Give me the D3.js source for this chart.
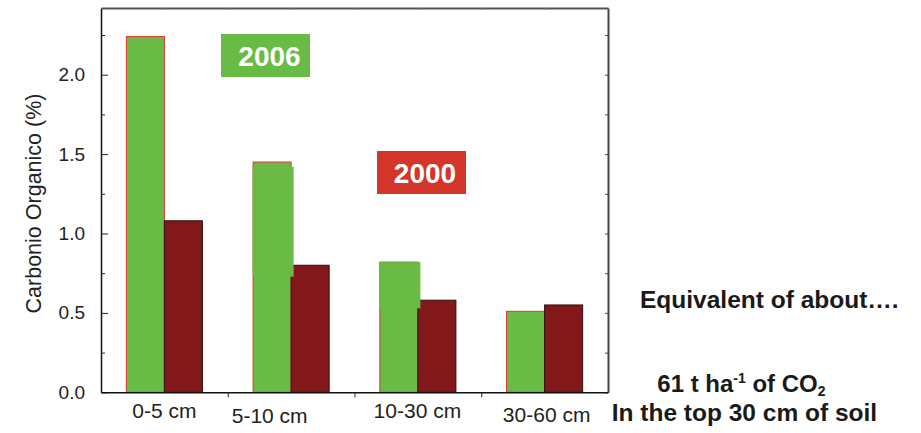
<!DOCTYPE html>
<html><head><meta charset="utf-8">
<script src="https://cdn.jsdelivr.net/npm/d3@7"></script>
<style>
body{margin:0;background:#fff;}
svg{display:block;font-family:"Liberation Sans",Arial,sans-serif;}
</style></head>
<body><svg id="c" width="921" height="433"></svg>
<script>
const categories = ["0-5 cm", "5-10 cm", "10-30 cm", "30-60 cm"];
const values2006 = [2.24, 1.45, 0.82, 0.51];
const values2000 = [1.08, 0.80, 0.58, 0.55];
// green over-paint patches on the 2006 bars [category, from, to]
const patches = [["5-10 cm", 0.728, 1.42], ["10-30 cm", 0.529, 0.82]];
const yTicks = [0.0, 0.5, 1.0, 1.5, 2.0];
const yMinor = [0.25, 0.75, 1.25, 1.75, 2.25];
const seriesNames = ["2006", "2000"];

const GREEN = "#69bb45", DARK = "#82181a", RED = "#e8302a", BOXRED = "#d3362a";
const L = 101, R = 608, T = 8, B = 392.3;
const svg = d3.select("#c");

const x = d3.scaleBand().domain(categories).range([L, R]).padding(0);
const y = d3.scaleLinear().domain([0, 2.42]).range([B, T]);
const bw = x.bandwidth() * 0.3;
const cx = c => x(c) + x.bandwidth() / 2;

// bars 2006
svg.append("g").selectAll("rect").data(categories).join("rect")
  .attr("x", c => cx(c) - bw).attr("width", bw)
  .attr("y", (c, i) => y(values2006[i])).attr("height", (c, i) => B - y(values2006[i]))
  .attr("fill", GREEN).attr("stroke", RED).attr("stroke-width", 1);
// bars 2000
svg.append("g").selectAll("rect").data(categories).join("rect")
  .attr("x", c => cx(c)).attr("width", bw)
  .attr("y", (c, i) => y(values2000[i])).attr("height", (c, i) => B - y(values2000[i]))
  .attr("fill", DARK).attr("stroke", "#2a1010").attr("stroke-width", 1);
// patches
svg.append("g").selectAll("rect").data(patches).join("rect")
  .attr("x", d => cx(d[0]) - bw - 0.5).attr("width", bw + 3)
  .attr("y", d => y(d[2])).attr("height", d => y(d[1]) - y(d[2]))
  .attr("fill", GREEN);

// axes
const tickFmt = d3.format(".1f");
const gl = svg.append("g").attr("transform", `translate(${L},0)`)
  .call(d3.axisLeft(y).tickValues(yTicks).tickFormat(tickFmt).tickSize(-7).tickPadding(16).tickSizeOuter(0));
gl.select(".domain").attr("stroke", "#111").attr("stroke-width", 1.5);
gl.selectAll(".tick line").attr("stroke", "#222");
gl.selectAll(".tick text").attr("font-size", 19).attr("fill", "#222").attr("font-family", "Liberation Sans, Arial");
svg.append("g").attr("transform", `translate(${L},0)`)
  .call(d3.axisLeft(y).tickValues(yMinor).tickFormat("").tickSize(-4).tickSizeOuter(0))
  .call(g => g.select(".domain").remove())
  .selectAll(".tick line").attr("stroke", "#222");

const gr = svg.append("g").attr("transform", `translate(${R},0)`)
  .call(d3.axisRight(y).tickValues(yTicks.concat(yMinor)).tickFormat("").tickSize(-3).tickSizeOuter(0));
gr.select(".domain").attr("stroke", "#444").attr("stroke-width", 2);
gr.selectAll(".tick line").attr("stroke", "#444");

const gb = svg.append("g").attr("transform", `translate(0,${B})`)
  .call(d3.axisBottom(x).tickSize(0).tickFormat(d => d));
gb.select(".domain").attr("stroke", "#111").attr("stroke-width", 1.5);
const labelNudge = [[0, 26], [-21.5, 30.7], [-0.5, 26], [2, 29.4]];
gb.selectAll(".tick text").attr("font-size", 21).attr("fill", "#222").attr("font-family", "Liberation Sans, Arial")
  .attr("dy", null).attr("y", (d, i) => labelNudge[i][1]).attr("x", (d, i) => labelNudge[i][0]);
// bottom boundary ticks
const xb = d3.scalePoint().domain(d3.range(categories.length + 1)).range([L, R]);
svg.append("g").attr("transform", `translate(0,${B})`)
  .call(d3.axisBottom(xb).tickValues(d3.range(1, categories.length)).tickFormat("").tickSize(5))
  .call(g => g.select(".domain").remove())
  .selectAll(".tick line").attr("stroke", "#222");

const xt = d3.scalePoint().domain(d3.range(categories.length * 2 + 1)).range([L, R]);
const gt = svg.append("g").attr("transform", `translate(0,${T})`)
  .call(d3.axisTop(xt).tickValues(d3.range(1, categories.length * 2)).tickFormat("").tickSize(-2).tickSizeOuter(0));
gt.select(".domain").attr("stroke", "#555").attr("stroke-width", 2);
gt.selectAll(".tick line").attr("stroke", "#777");

// y label
svg.append("text").attr("transform", "translate(40.5,203.5) rotate(-90)")
  .attr("text-anchor", "middle").attr("font-size", 21.5).attr("fill", "#222")
  .text("Carbonio Organico (%)");

// series boxes
const boxes = [
  {name: seriesNames[0], fill: GREEN, x: 221, y: 34, w: 89, h: 43, tx: 269.5, ty: 65.5},
  {name: seriesNames[1], fill: BOXRED, x: 377, y: 151, w: 89, h: 43, tx: 425, ty: 182.8}
];
boxes.forEach(b => {
  svg.append("rect").attr("x", b.x).attr("y", b.y).attr("width", b.w).attr("height", b.h).attr("fill", b.fill);
  svg.append("text").attr("x", b.tx).attr("y", b.ty).attr("text-anchor", "middle")
    .attr("font-size", 28).attr("font-weight", "bold").attr("fill", "#fff").text(b.name);
});

// right annotations
svg.append("text").attr("x", 640).attr("y", 308.3).attr("font-size", 24.5).attr("font-weight", "bold")
  .attr("fill", "#1a1a1a").text("Equivalent of about\u2026.");
const t2 = svg.append("text").attr("x", 657.3).attr("y", 392).attr("font-size", 24).attr("font-weight", "bold").attr("fill", "#1a1a1a");
t2.append("tspan").text("61 t ha");
t2.append("tspan").attr("font-size", 14).attr("dy", -9).text("-1");
t2.append("tspan").attr("dy", 9).text(" of CO");
t2.append("tspan").attr("font-size", 14).attr("dy", 4).text("2");
svg.append("text").attr("x", 611.7).attr("y", 420.5).attr("font-size", 24.5).attr("font-weight", "bold")
  .attr("fill", "#1a1a1a").text("In the top 30 cm of soil");
</script></body></html>
